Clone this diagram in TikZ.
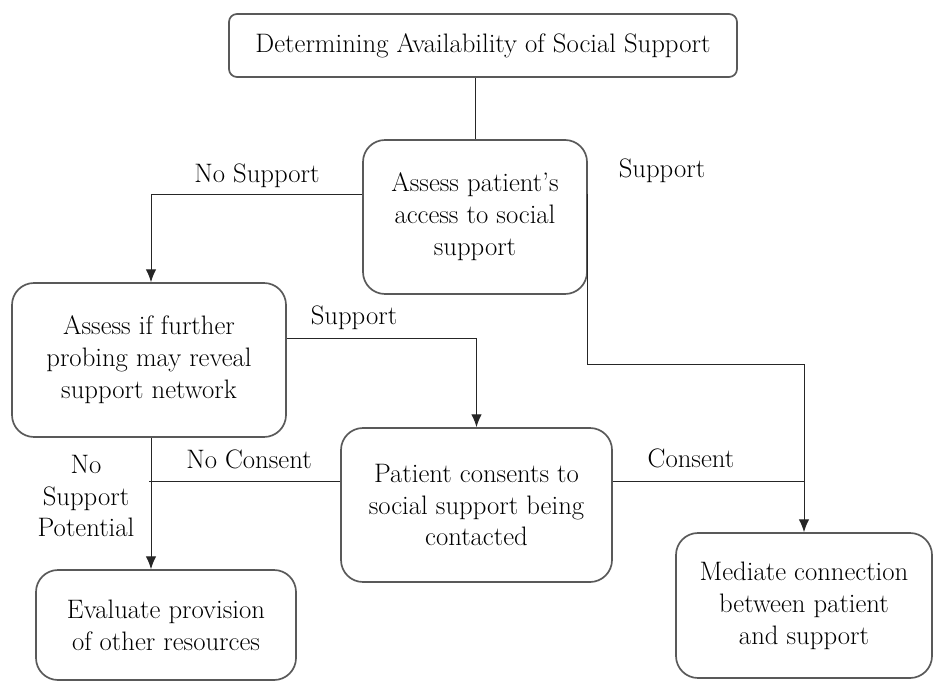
\documentclass[tikz,border=0pt]{standalone}
\usetikzlibrary{arrows.meta}
\begin{document}
\begin{tikzpicture}[
    box/.style={draw=black!65, line width=1.2pt, rounded corners=0.55cm, align=center, inner sep=0pt, font=\fontsize{19}{22.7}\selectfont},
    lbl/.style={align=center, inner sep=0pt, font=\fontsize{19}{22.7}\selectfont},
    arr/.style={-{Latex[length=3.2mm,width=2.6mm]}},
    line width=0.7pt, draw=black!85]

    \useasboundingbox (0,0) rectangle (23.35,17.05);

    % boxes
    \node[box, rounded corners=0.2cm, minimum width=12.7cm, minimum height=1.575cm] (top) at (12.075,15.9125) {Determining Availability of Social Support};
    \node[box, minimum width=5.6cm, minimum height=3.85cm] (access) at (11.875,11.625) {Assess patient's\\access to social\\support};
    \node[box, minimum width=6.85cm, minimum height=3.85cm] (probe) at (3.725,8.05) {Assess if further\\probing may reveal\\support network};
    \node[box, minimum width=6.775cm, minimum height=3.85cm] (consent) at (11.9125,4.425) {Patient consents to\\social support being\\contacted};
    \node[box, minimum width=6.5cm, minimum height=2.75cm] (other) at (4.15,1.425) {Evaluate provision\\of other resources};
    \node[box, minimum width=6.4cm, minimum height=3.625cm] (mediate) at (20.1,1.9125) {Mediate connection\\between patient\\and support};

    % labels
    \node[lbl] (nosup) at (6.425,12.65) {No Support};
    \node[lbl] (sup) at (16.55,12.775) {Support};
    \node[lbl] (supmid) at (8.85,9.1) {Support};
    \node[lbl] (nocons) at (6.225,5.575) {No Consent};
    \node[lbl] (cons) at (17.275,5.6) {Consent};
    \node[lbl] (nopot) at (2.15,4.65) {No\\Support\\Potential};

    % connectors
    \coordinate (jr) at (mediate.north |- 0,7.95);
    \draw (access.north) -- (access.north |- top.south);
    \draw[arr] ([yshift=5.75mm]access.west) -| ([xshift=0.5mm]probe.north);
    \draw[arr] ([yshift=5.75mm]access.east) |- (jr) -- (mediate.north);
    \draw[arr] ([yshift=5.5mm]probe.east) -| (consent.north);
    \draw[arr] ([xshift=0.5mm]probe.south) -- ([xshift=0.5mm]probe.south |- other.north);
    \draw ([yshift=6mm]consent.east) -- ([yshift=6mm]consent.east -| jr);
    \draw ([yshift=6mm]consent.west) -- ([yshift=6mm]consent.west -| probe.south);

\end{tikzpicture}
\end{document}
